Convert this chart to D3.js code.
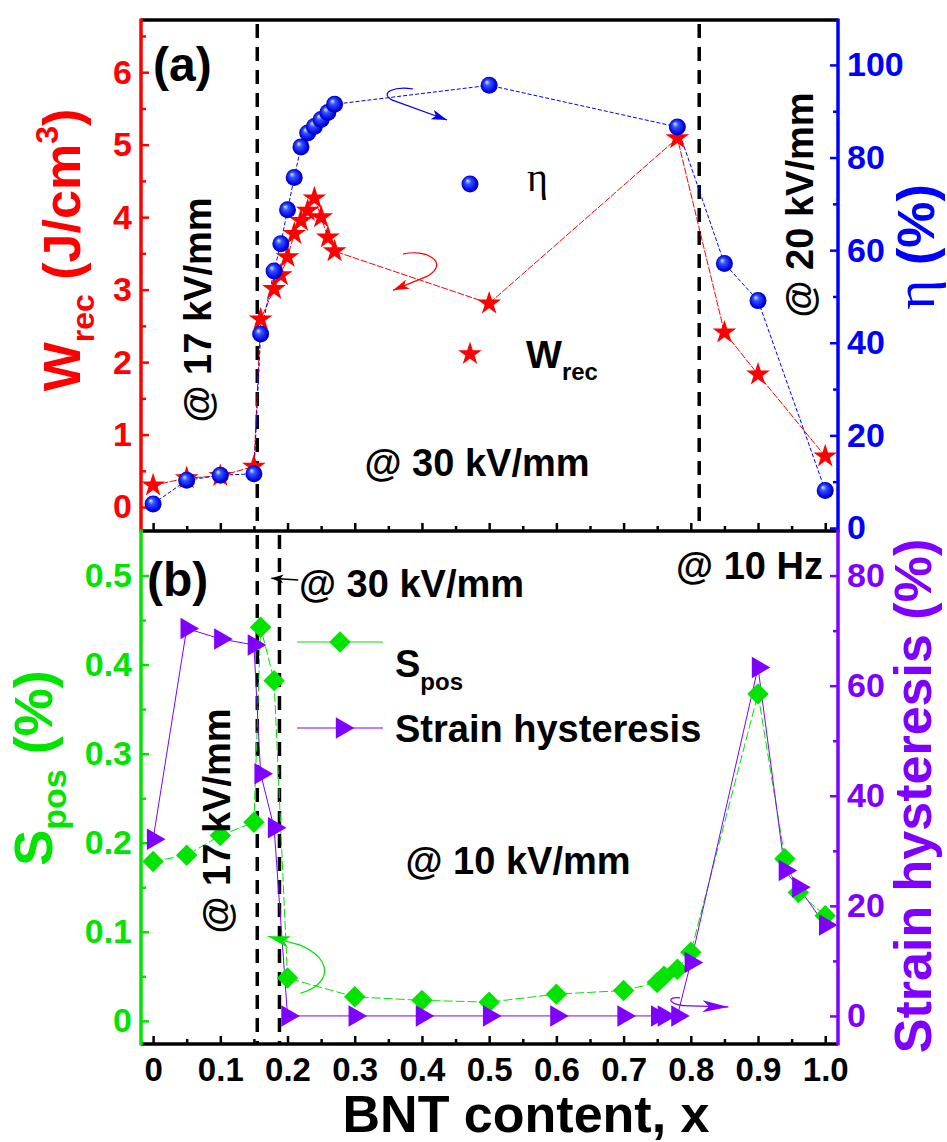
<!DOCTYPE html>
<html>
<head>
<meta charset="utf-8">
<script src="https://cdn.jsdelivr.net/npm/d3@7"></script>
<style>
  body { margin: 0; background: #fff; }
  svg { display: block; font-family: "Liberation Sans", Arial, sans-serif; font-weight: bold; }
</style>
</head>
<body>
<svg id="chart" width="947" height="1142"></svg>
<script>
// ---- panel (a) data ----
var bntA = [0, 0.05, 0.1, 0.15, 0.16, 0.18, 0.19, 0.2, 0.21, 0.22, 0.23, 0.24, 0.25, 0.26, 0.27, 0.5, 0.78, 0.85, 0.9, 1.0];
var wrec = [0.3, 0.4, 0.43, 0.56, 2.59, 3.01, 3.2, 3.45, 3.77, 3.95, 4.09, 4.26, 4.0, 3.72, 3.53, 2.81, 5.09, 2.41, 1.83, 0.7];
var eta  = [5.2, 10.3, 11.4, 11.7, 41.9, 55.5, 61.4, 68.7, 75.7, 82.3, 85.3, 86.7, 88.2, 89.7, 91.5, 95.6, 86.6, 57.1, 49.1, 8.1];

// ---- panel (b) data ----
var bntB = [0, 0.05, 0.1, 0.15, 0.16, 0.18, 0.2, 0.3, 0.4, 0.5, 0.6, 0.7, 0.75, 0.76, 0.78, 0.8, 0.9, 0.94, 0.96, 1.0];
var spos = [0.179, 0.186, 0.208, 0.223, 0.442, 0.382, 0.048, 0.027, 0.023, 0.021, 0.03, 0.034, 0.043, 0.05, 0.058, 0.077, 0.367, 0.182, 0.144, 0.118];
var strainHys = [32.1, 70.4, 68.5, 67.4, 44, 34.2, 0, 0, 0, 0, 0, 0, 0, 0, 0, 9.7, 63.3, 26.4, 23.4, 16.5];

// ticks and field boundaries
var xTicks = [0, 0.1, 0.2, 0.3, 0.4, 0.5, 0.6, 0.7, 0.8, 0.9, 1.0];
var xMinor = [0.05, 0.15, 0.25, 0.35, 0.45, 0.55, 0.65, 0.75, 0.85, 0.95];
var wTicks = [0, 1, 2, 3, 4, 5, 6], wMinor = [0.5, 1.5, 2.5, 3.5, 4.5, 5.5, 6.5];
var etaTicks = [0, 20, 40, 60, 80, 100], etaMinor = [10, 30, 50, 70, 90];
var sTicks = [0, 0.1, 0.2, 0.3, 0.4, 0.5], sMinor = [0.05, 0.15, 0.25, 0.35, 0.45];
var hTicks = [0, 20, 40, 60, 80], hMinor = [10, 30, 50, 70];
var dividersA = [0.155, 0.8125];
var dividersB = [0.155, 0.188];

var RED = "#ff0000", BLUE = "#0000ff", GREEN = "#00e400", PURPLE = "#8000ff";
var L = 141, R = 838, T = 20, M = 531, B = 1044;

var svg = d3.select("#chart");

var x = d3.scaleLinear().domain([-0.018, 1.019]).range([L, R]);
var yW = d3.scaleLinear().domain([-0.33, 6.72]).range([M, T]);
var yEta = d3.scaleLinear().domain([-0.65, 109.7]).range([M, T]);
var yS = d3.scaleLinear().domain([-0.026, 0.55]).range([B, M]);
var yH = d3.scaleLinear().domain([-5.1, 88.1]).range([B, M]);

var fmtInt = d3.format("d");
var fmtDec = function(d) { return d === 0 ? "0" : d3.format(".1f")(d); };

// gradient for the ball markers
var defs = svg.append("defs");
var grad = defs.append("radialGradient").attr("id", "ball")
  .attr("cx", "50%").attr("cy", "50%").attr("r", "55%").attr("fx", "35%").attr("fy", "30%");
grad.append("stop").attr("offset", "0%").attr("stop-color", "#dfe6ff");
grad.append("stop").attr("offset", "30%").attr("stop-color", "#3355ff");
grad.append("stop").attr("offset", "80%").attr("stop-color", "#0000e0");
grad.append("stop").attr("offset", "100%").attr("stop-color", "#00009a");

function marker(id, color, len, wid) {
  defs.append("marker").attr("id", id)
    .attr("markerUnits", "userSpaceOnUse")
    .attr("viewBox", "0 0 " + len + " " + wid)
    .attr("refX", len).attr("refY", wid / 2)
    .attr("markerWidth", len).attr("markerHeight", wid)
    .attr("orient", "auto")
    .append("path").attr("d", "M0,0 L" + len + "," + (wid / 2) + " L0," + wid + " L" + (len * 0.25) + "," + (wid / 2) + "Z")
    .attr("fill", color);
}
marker("arBlue", BLUE, 16, 10);
marker("arRed", RED, 16, 10);
marker("arGreen", GREEN, 22, 12);
marker("arPurple", PURPLE, 26, 12);
marker("arBlack", "#000", 12, 9);

// ---- axes ----
function yAxis(scale, side, xpos, majors, minors, color, fmt) {
  var mk = side === "left" ? d3.axisLeft : d3.axisRight;
  var g = svg.append("g").attr("transform", "translate(" + xpos + ",0)")
    .call(mk(scale).tickValues(majors).tickFormat(fmt).tickSize(-8).tickPadding(9).tickSizeOuter(0));
  g.select(".domain").remove();
  g.selectAll("line").attr("stroke", color).attr("stroke-width", 2.5);
  g.selectAll("text").attr("fill", color).attr("font-size", 34)
    .attr("font-family", "Liberation Sans, Arial, sans-serif").attr("font-weight", "bold");
  var gm = svg.append("g").attr("transform", "translate(" + xpos + ",0)")
    .call(mk(scale).tickValues(minors).tickSize(-5).tickFormat("").tickSizeOuter(0));
  gm.select(".domain").remove();
  gm.selectAll("line").attr("stroke", color).attr("stroke-width", 2.5);
  svg.append("line").attr("x1", xpos).attr("x2", xpos)
    .attr("y1", scale.range()[0] + 1.5).attr("y2", scale.range()[1] - 1.5)
    .attr("stroke", color).attr("stroke-width", 3.5);
}

function xAxis(ypos, withLabels) {
  var ax = d3.axisBottom(x).tickValues(xTicks).tickSize(-8).tickPadding(14).tickSizeOuter(0)
    .tickFormat(withLabels ? fmtDec : "");
  var g = svg.append("g").attr("transform", "translate(0," + ypos + ")").call(ax);
  g.select(".domain").remove();
  g.selectAll("line").attr("stroke", "#000").attr("stroke-width", 2.5);
  g.selectAll("text").attr("fill", "#000").attr("font-size", 33)
    .attr("font-family", "Liberation Sans, Arial, sans-serif").attr("font-weight", "bold");
  var gm = svg.append("g").attr("transform", "translate(0," + ypos + ")")
    .call(d3.axisBottom(x).tickValues(xMinor).tickSize(-5).tickFormat("").tickSizeOuter(0));
  gm.select(".domain").remove();
  gm.selectAll("line").attr("stroke", "#000").attr("stroke-width", 2.5);
  svg.append("line").attr("x1", L).attr("x2", R).attr("y1", ypos).attr("y2", ypos)
    .attr("stroke", "#000").attr("stroke-width", 3.5);
}

// top frame line
svg.append("line").attr("x1", L).attr("x2", R).attr("y1", T).attr("y2", T)
  .attr("stroke", "#000").attr("stroke-width", 3.5);
xAxis(M, false);
xAxis(B, true);
yAxis(yW, "left", L, wTicks, wMinor, RED, fmtInt);
yAxis(yEta, "right", R, etaTicks, etaMinor, BLUE, fmtInt);
yAxis(yS, "left", L, sTicks, sMinor, GREEN, fmtDec);
yAxis(yH, "right", R, hTicks, hMinor, PURPLE, fmtInt);

// dashed boundaries
svg.selectAll(".divA").data(dividersA).enter().append("line")
  .attr("x1", function(d) { return x(d); }).attr("x2", function(d) { return x(d); })
  .attr("y1", T + 4).attr("y2", M)
  .attr("stroke", "#000").attr("stroke-width", 3.5).attr("stroke-dasharray", "14,9");
svg.selectAll(".divB").data(dividersB).enter().append("line")
  .attr("x1", function(d) { return x(d); }).attr("x2", function(d) { return x(d); })
  .attr("y1", M + 4).attr("y2", B)
  .attr("stroke", "#000").attr("stroke-width", 3.5).attr("stroke-dasharray", "14,9");

// ---- panel (a) series ----
var ptsW = bntA.map(function(d, i) { return [d, wrec[i]]; });
var ptsE = bntA.map(function(d, i) { return [d, eta[i]]; });

svg.append("path").datum(ptsW)
  .attr("d", d3.line().x(function(d) { return x(d[0]); }).y(function(d) { return yW(d[1]); }))
  .attr("fill", "none").attr("stroke", RED).attr("stroke-width", 1).attr("stroke-dasharray", "7,1.5");
svg.append("path").datum(ptsE)
  .attr("d", d3.line().x(function(d) { return x(d[0]); }).y(function(d) { return yEta(d[1]); }))
  .attr("fill", "none").attr("stroke", BLUE).attr("stroke-width", 1).attr("stroke-dasharray", "4,2");

var star = d3.symbol().type(d3.symbolStar).size(175);
svg.selectAll(".star").data(ptsW).enter().append("path")
  .attr("d", star)
  .attr("transform", function(d) { return "translate(" + x(d[0]) + "," + yW(d[1]) + ")"; })
  .attr("fill", RED);
svg.selectAll(".ball").data(ptsE).enter().append("circle")
  .attr("cx", function(d) { return x(d[0]); }).attr("cy", function(d) { return yEta(d[1]); })
  .attr("r", 8.5).attr("fill", "url(#ball)");

// ---- panel (b) series ----
var ptsS = bntB.map(function(d, i) { return [d, spos[i]]; });
var ptsH = bntB.map(function(d, i) { return [d, strainHys[i]]; });

svg.append("path").datum(ptsS)
  .attr("d", d3.line().x(function(d) { return x(d[0]); }).y(function(d) { return yS(d[1]); }))
  .attr("fill", "none").attr("stroke", GREEN).attr("stroke-width", 1).attr("stroke-dasharray", "9,3");
svg.append("path").datum(ptsH)
  .attr("d", d3.line().x(function(d) { return x(d[0]); }).y(function(d) { return yH(d[1]); }))
  .attr("fill", "none").attr("stroke", PURPLE).attr("stroke-width", 1);

var diamond = d3.symbol().type(d3.symbolSquare).size(230);
var tri = d3.symbol().type(d3.symbolTriangle).size(200);
svg.selectAll(".dia").data(ptsS).enter().append("path")
  .attr("d", diamond)
  .attr("transform", function(d) { return "translate(" + x(d[0]) + "," + yS(d[1]) + ") rotate(45)"; })
  .attr("fill", GREEN);
svg.selectAll(".tri").data(ptsH).enter().append("path")
  .attr("d", tri)
  .attr("transform", function(d) { return "translate(" + x(d[0]) + "," + yH(d[1]) + ") rotate(90)"; })
  .attr("fill", PURPLE);

// ---- curly arrows pointing to the axes ----
function curl(sx, sy, pts, color, mk, w) {
  var p = pts.map(function(d) { return [sx(d[0]), sy(d[1])]; });
  var dstr = "M" + p[0] + " C" + p[1] + " " + p[2] + " " + p[3] + " L" + p[4];
  svg.append("path").attr("d", dstr).attr("fill", "none")
    .attr("stroke", color).attr("stroke-width", w).attr("marker-end", "url(#" + mk + ")");
}
curl(x, yEta, [[0.387, 94.8], [0.36, 95.5], [0.335, 94.0], [0.356, 92.4], [0.4375, 88.1]], BLUE, "arBlue", 1.2);
curl(x, yW, [[0.372, 3.49], [0.405, 3.57], [0.442, 3.38], [0.409, 3.19], [0.357, 2.99]], RED, "arRed", 1.2);
curl(x, yS, [[0.219, 0.031], [0.263, 0.040], [0.271, 0.068], [0.219, 0.085], [0.171, 0.095]], GREEN, "arGreen", 1.2);
curl(x, yH, [[0.784, 3.27], [0.762, 3.63], [0.766, 1.82], [0.799, 1.82], [0.856, 1.63]], PURPLE, "arPurple", 1.2);
svg.append("line").attr("x1", x(0.216)).attr("y1", yS(0.495)).attr("x2", x(0.176)).attr("y2", yS(0.497))
  .attr("stroke", "#000").attr("stroke-width", 1.5).attr("marker-end", "url(#arBlack)");

// ---- text ----
function label(xp, yp, str, size, opts) {
  opts = opts || {};
  var t = svg.append("text").attr("x", xp).attr("y", yp).attr("font-size", size)
    .attr("fill", opts.fill || "#000").attr("text-anchor", opts.anchor || "start").text(str);
  if (opts.rotate) {
    t.attr("x", 0).attr("y", 0).attr("transform", "translate(" + xp + "," + yp + ") rotate(-90)");
  }
  return t;
}
label(153, 81, "(a)", 48);
label(147, 596, "(b)", 48);
label(211, 310, "@ 17 kV/mm", 38, { anchor: "middle", rotate: true });
label(477, 476, "@ 30 kV/mm", 38, { anchor: "middle" });
label(813, 205, "@ 20 kV/mm", 38, { anchor: "middle", rotate: true });
label(299, 597, "@ 30 kV/mm", 38);
label(823, 579, "@ 10 Hz", 38, { anchor: "end" });
label(230, 821, "@ 17 kV/mm", 38, { anchor: "middle", rotate: true });
label(518, 874, "@ 10 kV/mm", 38, { anchor: "middle" });

// legend (a)
svg.append("circle").attr("cx", 470).attr("cy", 184).attr("r", 8.5).attr("fill", "url(#ball)");
label(527, 191, "η", 40).attr("font-family", "Liberation Serif, serif").attr("font-weight", "normal");
svg.append("path").attr("d", star).attr("transform", "translate(470,354)").attr("fill", RED);
var lw = label(526, 368, "W", 38);
lw.append("tspan").attr("font-size", 24).attr("dy", 12).text("rec");

// legend (b)
svg.append("line").attr("x1", 297).attr("x2", 383).attr("y1", 642).attr("y2", 642)
  .attr("stroke", GREEN).attr("stroke-width", 1.2);
svg.append("path").attr("d", diamond).attr("transform", "translate(340,642) rotate(45)").attr("fill", GREEN);
var ls = label(395, 677, "S", 38);
ls.append("tspan").attr("font-size", 24).attr("dy", 13).text("pos");
svg.append("line").attr("x1", 297).attr("x2", 383).attr("y1", 728).attr("y2", 728)
  .attr("stroke", PURPLE).attr("stroke-width", 1.2);
svg.append("path").attr("d", tri).attr("transform", "translate(342,728) rotate(90)").attr("fill", PURPLE);
label(395, 742, "Strain hysteresis", 38);

// axis titles
var tw = label(80, 250, "", 52, { anchor: "middle", rotate: true, fill: RED });
tw.append("tspan").text("W");
tw.append("tspan").attr("font-size", 32).attr("dy", 14).text("rec");
tw.append("tspan").attr("dy", -14).text(" (J/cm");
tw.append("tspan").attr("font-size", 32).attr("dy", -22).text("3");
tw.append("tspan").attr("dy", 22).text(")");

var te = label(934, 247, "", 52, { anchor: "middle", rotate: true, fill: BLUE });
te.append("tspan").attr("font-family", "Liberation Serif, serif").attr("font-weight", "normal").attr("font-size", 58).text("η");
te.append("tspan").text(" (%)");

var tsp = label(52, 768, "", 54, { anchor: "middle", rotate: true, fill: GREEN });
tsp.append("tspan").text("S");
tsp.append("tspan").attr("font-size", 34).attr("dy", 14).text("pos");
tsp.append("tspan").attr("dy", -14).text(" (%)");

label(931, 796, "Strain hysteresis (%)", 52, { anchor: "middle", rotate: true, fill: PURPLE });
label(526, 1132, "BNT content, x", 52, { anchor: "middle" });
</script>
</body>
</html>
